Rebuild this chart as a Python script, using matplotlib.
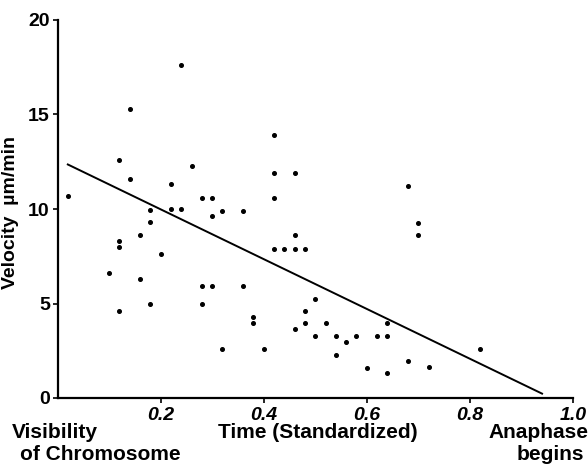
import matplotlib
matplotlib.use("Agg")
import matplotlib.pyplot as plt
import numpy as np

plt.rcParams['font.family'] = ['Liberation Sans', 'DejaVu Sans']

# Standardized time (0 = chromosome visible, 1 = anaphase begins)
time_std = [0.02, 0.10, 0.12, 0.12, 0.12, 0.12, 0.14, 0.14, 0.16, 0.16,
            0.18, 0.18, 0.18, 0.20, 0.22, 0.22, 0.24, 0.24, 0.26, 0.28,
            0.28, 0.28, 0.30, 0.30, 0.30, 0.32, 0.32, 0.36, 0.36, 0.38,
            0.38, 0.40, 0.42, 0.42, 0.42, 0.42, 0.44, 0.46, 0.46, 0.46,
            0.46, 0.48, 0.48, 0.48, 0.50, 0.50, 0.52, 0.54, 0.54, 0.56,
            0.58, 0.60, 0.62, 0.64, 0.64, 0.64, 0.68, 0.68, 0.70, 0.70,
            0.72, 0.82]
# Velocity (um/min)
velocity = [10.7, 6.6, 12.6, 8.3, 8.0, 4.6, 15.3, 11.6, 8.6, 6.3,
            9.95, 9.3, 5.0, 7.6, 11.3, 10.0, 17.6, 10.0, 12.3, 10.6,
            5.95, 5.0, 10.6, 9.65, 5.95, 9.9, 2.6, 9.9, 5.95, 4.3,
            3.95, 2.6, 13.9, 11.9, 10.6, 7.9, 7.9, 11.9, 8.6, 7.9,
            3.65, 7.9, 4.6, 3.95, 5.25, 3.3, 3.95, 3.3, 2.3, 2.95,
            3.3, 1.6, 3.3, 3.3, 3.95, 1.3, 11.2, 1.95, 9.25, 8.6,
            1.65, 2.6]

# Regression line
fit_intercept = 12.62
fit_slope = -13.18
fit_range = [0.02, 0.94]

x_ticks = [0.2, 0.4, 0.6, 0.8, 1.0]
x_tick_labels = ["0.2", "0.4", "0.6", "0.8", "1.0"]
y_ticks = [0, 5, 10, 15, 20]
y_tick_labels = ["0", "5", "10", "15", "20"]

fig = plt.figure(figsize=(5.88, 4.66), dpi=100)
ax = fig.add_axes([57.5 / 588, 68 / 466, (573 - 57.5) / 588, (398 - 20) / 466])

ax.plot(time_std, velocity, 'o', color='black', markersize=2.6, linestyle='none')
fx = np.array(fit_range)
ax.plot(fx, fit_intercept + fit_slope * fx, color='black', linewidth=1.4)

ax.set_xlim(0, 1.0)
ax.set_ylim(0, 20)
for s in ['top', 'right']:
    ax.spines[s].set_visible(False)
for s in ['left', 'bottom']:
    ax.spines[s].set_linewidth(1.6)

ax.set_xticks(x_ticks)
ax.set_xticklabels(x_tick_labels, fontsize=14, fontweight='bold', fontstyle='italic')
ax.set_yticks(y_ticks)
ax.set_yticklabels(y_tick_labels, fontsize=14, fontweight='bold')
ax.tick_params(axis='both', direction='out', length=3.5, width=1.2, pad=2)
ax.tick_params(axis='x', pad=3)

ax.set_ylabel("Velocity  µm/min", fontsize=14, fontweight='bold', labelpad=2)
ax.yaxis.set_label_coords(-0.075, 0.49)

fig.text(12 / 588, 1 - 432 / 466, "Visibility", fontsize=15, fontweight='bold',
         ha='left', va='center')
fig.text(20 / 588, 1 - 455 / 466, "of Chromosome", fontsize=15, fontweight='bold',
         ha='left', va='center')
fig.text(318 / 588, 1 - 432 / 466, "Time (Standardized)", fontsize=15, fontweight='bold',
         ha='center', va='center')
fig.text(588 / 588, 1 - 432 / 466, "Anaphase", fontsize=15, fontweight='bold',
         ha='right', va='center')
fig.text(584 / 588, 1 - 455 / 466, "begins", fontsize=15, fontweight='bold',
         ha='right', va='center')

fig.savefig("out.png", dpi=100)
